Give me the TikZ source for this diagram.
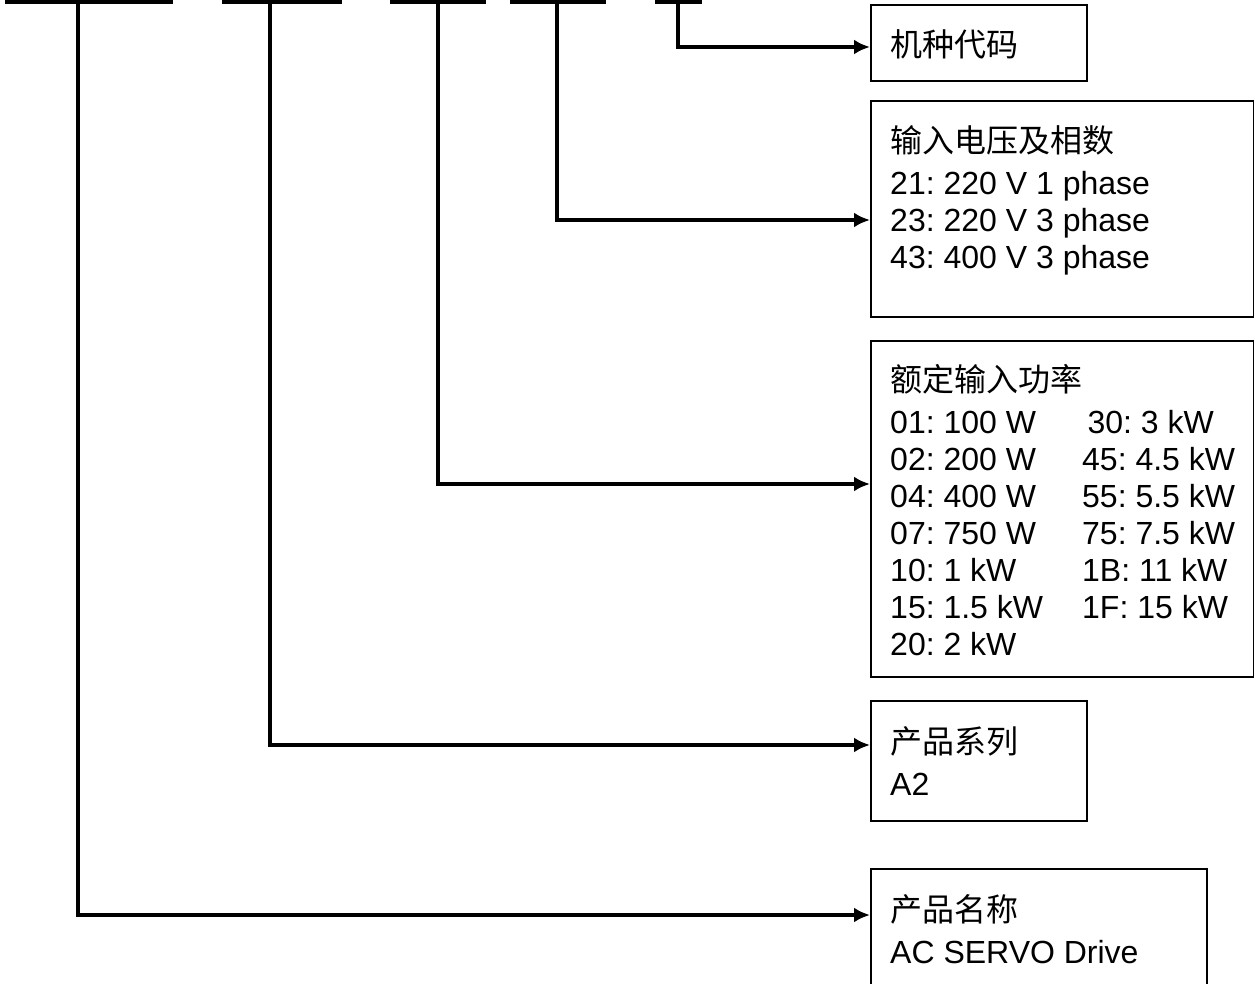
\documentclass[tikz,border=0pt]{standalone}
\usepackage{fontspec}
\setmainfont{Liberation Sans}
\newfontfamily\cjk{Noto Sans CJK SC}
\frenchspacing
\usetikzlibrary{positioning}
\usetikzlibrary{arrows.meta}
\tikzset{edge/.style = {->,> = {Latex[length=16pt,width=15pt]},line width=4.2pt}}

\begin{document}
\begin{tikzpicture}[x=1pt,y=-1pt,
    box/.style={draw,line width=1.6pt,anchor=north west,inner sep=0pt},
    info/.style={inner sep=0pt,font=\fontsize{32}{37}\selectfont}]
    \useasboundingbox (0,0) rectangle (1254,984);

    \node[box,minimum width=216pt,minimum height=76pt] (code) at (870,4) {};
    \node[box,minimum width=383pt,minimum height=216pt] (volt) at (870,100) {};
    \node[box,minimum width=383pt,minimum height=336pt] (power) at (870,340) {};
    \node[box,minimum width=216pt,minimum height=120pt] (series) at (870,700) {};
    \node[box,minimum width=336pt,minimum height=140pt] (name) at (870,868) {};

    \node[info] (codetext) [below right=53pt and 20pt of code.north west,anchor=base west] {\cjk 机种代码};
    \node[info] (volttext) [below right=53pt and 20pt of volt.north west,anchor=base west]
        {\begin{tabular}[t]{@{}l@{}}
            {\cjk 输入电压及相数}\\[5pt]
            21: 220 V 1 phase\\
            23: 220 V 3 phase\\
            43: 400 V 3 phase
        \end{tabular}};
    \node[info] (powertext) [below right=52pt and 20pt of power.north west,anchor=base west]
        {\begin{tabular}[t]{@{}p{192pt}@{}l@{}}
            {\cjk 额定输入功率} & \\[5pt]
            01: 100 W & \,30: 3 kW\\
            02: 200 W & 45: 4.5 kW\\
            04: 400 W & 55: 5.5 kW\\
            07: 750 W & 75: 7.5 kW\\
            10: 1 kW & 1B: 11 kW\\
            15: 1.5 kW & 1F: 15 kW\\
            20: 2 kW &
        \end{tabular}};
    \node[info] (seriestext) [below right=53pt and 20pt of series.north west,anchor=base west]
        {\begin{tabular}[t]{@{}l@{}}
            {\cjk 产品系列}\\[5pt]
            A2
        \end{tabular}};
    \node[info] (nametext) [below right=53pt and 20pt of name.north west,anchor=base west]
        {\begin{tabular}[t]{@{}l@{}}
            {\cjk 产品名称}\\[5pt]
            AC SERVO Drive
        \end{tabular}};

    \foreach \a/\b in {5/173,222/342,390/486,510/606,655/702}
        \fill (\a,-4) rectangle (\b,4.5);
    \coordinate (b1) at (78,2);
    \coordinate (b2) at (270,2);
    \coordinate (b3) at (438,2);
    \coordinate (b4) at (557,2);
    \coordinate (b5) at (678,2);

    \draw[edge] (b5) |- ([yshift=-43pt]code.north west);
    \draw[edge] (b4) |- ([yshift=-120pt]volt.north west);
    \draw[edge] (b3) |- ([yshift=-144pt]power.north west);
    \draw[edge] (b2) |- ([yshift=-45pt]series.north west);
    \draw[edge] (b1) |- ([yshift=-47pt]name.north west);
\end{tikzpicture}
\end{document}
